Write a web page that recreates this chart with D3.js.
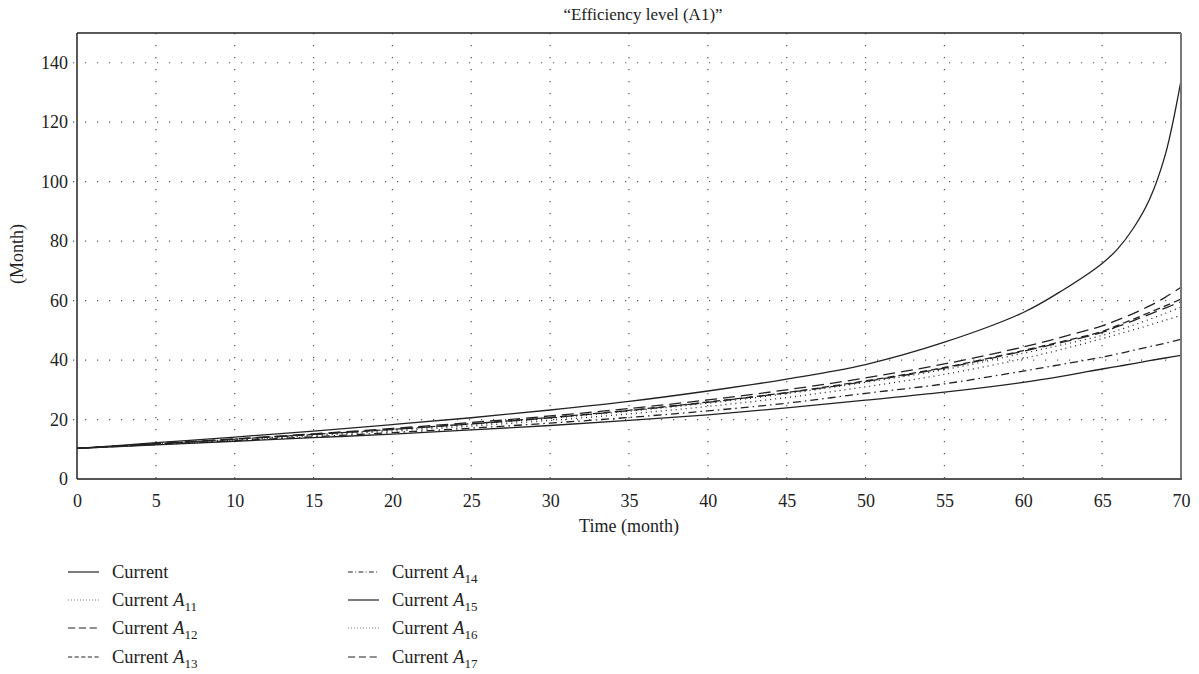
<!DOCTYPE html>
<html>
<head>
<meta charset="utf-8">
<script src="https://cdn.jsdelivr.net/npm/d3@7"></script>
<style>
  body { margin: 0; background: #fff; }
  svg text { font-family: "Liberation Serif", "Times New Roman", "DejaVu Serif", serif !important; fill: #222; }
</style>
</head>
<body>
<div id="chart"></div>
<script>
// months sampled along the x axis
const months = [0, 5, 10, 15, 20, 25, 30, 35, 40, 45, 50, 55, 60, 62.5, 65, 66, 67, 68, 69, 70];

const current    = [10.3, 12.2, 14.1, 16.1, 18.3, 20.6, 23.2, 26.1, 29.6, 33.6, 38.5, 46.0, 56.0, 63.5, 72.5, 77.5, 84.5, 94.0, 109.0, 134.0];
const currentA11 = [10.3, 11.7, 13.1, 14.6, 16.1, 17.8, 19.7, 21.9, 24.4, 27.4, 31.0, 35.2, 40.5, 43.7, 47.2, 48.7, 50.2, 51.8, 53.4, 55.0];
const currentA12 = [10.3, 11.9, 13.5, 15.2, 17.0, 19.0, 21.2, 23.7, 26.6, 30.0, 34.0, 38.7, 44.4, 47.8, 51.5, 53.5, 55.7, 58.2, 61.1, 64.5];
const currentA13 = [10.3, 11.8, 13.4, 15.0, 16.7, 18.6, 20.7, 23.1, 25.9, 29.1, 33.0, 37.5, 43.2, 46.3, 49.6, 51.7, 53.8, 56.0, 58.2, 60.5];
const currentA14 = [10.3, 11.6, 12.9, 14.2, 15.6, 17.1, 18.8, 20.7, 22.9, 25.5, 28.8, 32.0, 36.3, 38.6, 41.0, 42.1, 43.3, 44.5, 45.7, 47.0];
const currentA15 = [10.3, 11.5, 12.7, 13.9, 15.1, 16.5, 18.0, 19.7, 21.6, 23.9, 26.5, 29.2, 32.5, 34.6, 37.0, 37.9, 38.8, 39.8, 40.7, 41.6];
const currentA16 = [10.3, 11.8, 13.3, 14.9, 16.5, 18.3, 20.4, 22.8, 25.5, 28.7, 32.5, 36.8, 42.3, 45.2, 48.3, 50.0, 51.8, 53.7, 55.7, 57.8];
const currentA17 = [10.3, 11.8, 13.4, 15.0, 16.7, 18.5, 20.6, 23.0, 25.8, 29.0, 32.8, 37.3, 43.0, 46.0, 49.3, 51.3, 53.3, 55.4, 57.5, 59.6];

const seriesNames = ["Current", "Current A11", "Current A12", "Current A13", "Current A14", "Current A15", "Current A16", "Current A17"];
const seriesValues = [current, currentA11, currentA12, currentA13, currentA14, currentA15, currentA16, currentA17];
const subscripts = ["", "11", "12", "13", "14", "15", "16", "17"];

const xTicks = d3.range(0, 71, 5);
const yTicks = [0, 20, 40, 60, 80, 100, 120, 140];

const dashes = {
  "Current": null,
  "Current A11": "1,4",
  "Current A12": "12,6",
  "Current A13": "7,4",
  "Current A14": "8,4,1.5,4",
  "Current A15": null,
  "Current A16": "1,4",
  "Current A17": "12,6"
};

const W = 1199, H = 674;
const margin = { top: 33, left: 77, right: 18, bottom: 195 };
const width = W - margin.left - margin.right;
const height = H - margin.top - margin.bottom;

const svg = d3.select("#chart").append("svg")
  .attr("width", W)
  .attr("height", H);

const g = svg.append("g")
  .attr("transform", "translate(" + margin.left + "," + margin.top + ")");

const x = d3.scaleLinear().domain([0, 70]).range([0, width]);
const y = d3.scaleLinear().domain([0, 150]).range([height, 0]);

// dotted grid
g.append("g")
  .selectAll("line")
  .data(xTicks.filter((t) => t > 0 && t < 70))
  .enter()
  .append("line")
  .attr("x1", (d) => x(d)).attr("x2", (d) => x(d))
  .attr("y1", 0).attr("y2", height)
  .style("stroke", "#555")
  .style("stroke-width", 1.2)
  .style("stroke-dasharray", "1.2,10.8");

g.append("g")
  .selectAll("line")
  .data(yTicks.filter((t) => t > 0))
  .enter()
  .append("line")
  .attr("x1", 0).attr("x2", width)
  .attr("y1", (d) => y(d)).attr("y2", (d) => y(d))
  .style("stroke", "#555")
  .style("stroke-width", 1.2)
  .style("stroke-dasharray", "1.2,10.8")
  .attr("transform", "translate(-4,0)");

// axes
const xAxis = g.append("g")
  .attr("transform", "translate(0," + height + ")")
  .call(d3.axisBottom(x).tickValues(xTicks).tickSize(0).tickPadding(15));
xAxis.select(".domain").remove();
xAxis.selectAll("text")
  .style("font-size", "18px")
  .style("fill", "#222");

const yAxis = g.append("g")
  .call(d3.axisLeft(y).tickValues(yTicks).tickSize(0).tickPadding(9));
yAxis.select(".domain").remove();
yAxis.selectAll("text")
  .style("font-size", "18px")
  .style("fill", "#222");

// series
const line = d3.line()
  .x((d, i) => x(months[i]))
  .y((d) => y(d))
  .curve(d3.curveCatmullRom.alpha(0.5));

g.append("g")
  .selectAll("path")
  .data(seriesValues)
  .enter()
  .append("path")
  .attr("d", (d) => line(d))
  .style("fill", "none")
  .style("stroke", "#222")
  .style("stroke-width", 1.3)
  .style("stroke-dasharray", (d, i) => dashes[seriesNames[i]]);

// frame
g.append("line").attr("x1", 0).attr("x2", width).attr("y1", 0).attr("y2", 0)
  .style("stroke", "#222").style("stroke-width", 1.5);
g.append("line").attr("x1", width).attr("x2", width).attr("y1", 0).attr("y2", height)
  .style("stroke", "#777").style("stroke-width", 2);
g.append("line").attr("x1", 0).attr("x2", width + 1).attr("y1", height).attr("y2", height)
  .style("stroke", "#555").style("stroke-width", 2);
g.append("line").attr("x1", 0).attr("x2", 0).attr("y1", 0).attr("y2", height)
  .style("stroke", "#222").style("stroke-width", 1.5);

// titles
svg.append("text")
  .attr("x", 643).attr("y", 20)
  .attr("text-anchor", "middle")
  .style("font-size", "17px")
  .text("\u201CEfficiency level (A1)\u201D");

svg.append("text")
  .attr("x", margin.left + width / 2).attr("y", 532)
  .attr("text-anchor", "middle")
  .style("font-size", "18px")
  .text("Time (month)");

svg.append("text")
  .attr("transform", "translate(23,254) rotate(-90)")
  .attr("text-anchor", "middle")
  .style("font-size", "18px")
  .text("(Month)");

// legend
const legend = svg.append("g");
const rowY = [572, 600, 628, 657];
const colX = [68, 348];

seriesNames.forEach((name, i) => {
  const col = Math.floor(i / 4), row = i % 4;
  const lx = colX[col], ly = rowY[row];
  legend.append("line")
    .attr("x1", lx).attr("x2", lx + 31)
    .attr("y1", ly).attr("y2", ly)
    .style("stroke", "#222")
    .style("stroke-width", 1.2)
    .style("stroke-dasharray", dashes[name] ? dashes[name].split(",").map((v) => v * 0.6).join(",") : null);
  const t = legend.append("text")
    .attr("x", lx + 44).attr("y", ly + 6)
    .style("font-size", "18.5px");
  t.append("tspan").text("Current");
  if (subscripts[i]) {
    t.append("tspan").text(" ");
    t.append("tspan").style("font-style", "italic").text("A");
    t.append("tspan")
      .attr("dy", 5)
      .style("font-size", "13px")
      .text(subscripts[i]);
  }
});
</script>
</body>
</html>
